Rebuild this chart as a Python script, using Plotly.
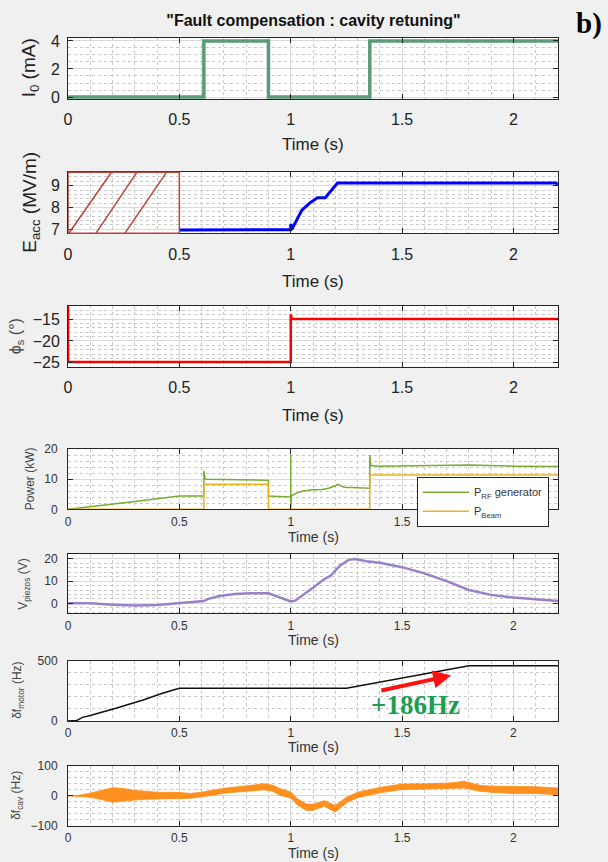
import plotly.graph_objects as go

# ---------------- data ----------------
# Panel 1 : beam current I0 (mA)
t_I0 = [0, 0.61, 0.61, 0.90, 0.90, 1.355, 1.355, 2.2]
I0 = [0, 0, 4, 4, 0, 0, 4, 4]

# Panel 2 : accelerating field Eacc (MV/m)
t_E = [0.5, 0.8, 1.0, 1.0, 1.005, 1.05, 1.085, 1.12, 1.155, 1.21, 1.6, 2.19, 2.2]
Eacc = [6.97, 6.97, 6.98, 7.25, 7.0, 7.88, 8.2, 8.45, 8.45, 9.12, 9.12, 9.12, 9.05]

# Panel 3 : synchronous phase (deg)
t_phi = [0, 0, 1.0, 1.0, 1.005, 2.2]
phi_s = [-11.95, -24.8, -24.8, -13.9, -15.0, -15.0]

# Panel 4 : powers (kW)
t_prf = [0, 0.1, 0.2, 0.3, 0.4, 0.5, 0.61, 0.61, 0.615, 0.62, 0.7, 0.8, 0.9, 0.9, 0.95,
         1.0, 1.0, 1.0, 1.003, 1.02, 1.05, 1.08, 1.1, 1.14, 1.17, 1.2, 1.21, 1.24, 1.3,
         1.355, 1.355, 1.36, 1.4, 1.6, 1.8, 2.0, 2.2]
p_rf = [0, 0.8, 1.7, 2.6, 3.5, 4.4, 4.4, 12.8, 10.2, 10.0, 9.9, 9.8, 9.6, 4.4, 4.3,
        4.1, 18.2, 0, 4.5, 5.2, 6.0, 6.3, 6.5, 6.6, 7.0, 7.8, 8.3, 7.3, 7.1,
        7.0, 18.0, 14.5, 14.3, 14.5, 14.7, 14.3, 14.2]
t_pb = [0, 0.61, 0.61, 0.9, 0.9, 1.355, 1.355, 2.2]
p_beam = [0, 0, 8.3, 8.3, 0, 0, 11.4, 11.4]

# Panel 5 : piezo voltage (V)
t_v = [0, 0.1, 0.2, 0.3, 0.4, 0.5, 0.58, 0.61, 0.63, 0.68, 0.75, 0.82, 0.9, 0.95, 1.0,
       1.02, 1.06, 1.1, 1.15, 1.18, 1.22, 1.26, 1.29, 1.34, 1.4, 1.5, 1.6, 1.7, 1.8,
       1.85, 1.9, 2.0, 2.1, 2.2]
v_piezo = [0, 0, -0.6, -1.0, -0.8, 0, 0.8, 1.0, 2.0, 3.3, 4.2, 4.5, 4.5, 2.5, 0.8,
           1.2, 4.0, 7.0, 10.8, 12.5, 17.0, 19.6, 20.0, 19.0, 18.3, 16.3, 13.5, 10.0, 6.0,
           4.8, 3.8, 2.6, 1.8, 1.0]

# Panel 6 : motor detuning (Hz)
t_m = [0, 0.04, 0.065, 0.1, 0.215, 0.337, 0.424, 0.5, 1.25, 1.8, 2.2]
df_motor = [0, 5, 30, 45, 105, 174, 230, 272, 272, 458, 458]
arrow_t = [1.40, 1.72]
arrow_f = [250, 378]
label_t, label_f = 1.56, 133

# Panel 7 : cavity detuning (Hz) - centre of the noisy band and its half width
t_c = [0, 0.05, 0.1, 0.15, 0.2, 0.25, 0.3, 0.35, 0.4, 0.5, 0.55, 0.6, 0.65, 0.7, 0.8,
       0.88, 0.92, 0.95, 1.0, 1.03, 1.07, 1.1, 1.15, 1.2, 1.25, 1.3, 1.4, 1.5, 1.6, 1.7,
       1.78, 1.85, 1.9, 2.0, 2.1, 2.2]
df_cav = [0, 0, 2, 3, 3, 3, 2, 2, 1, 1, 0, 4, 10, 17, 24,
          30, 25, 13, 3, -20, -38, -38, -25, -43, -14, 3, 19, 30, 31, 33,
          37, 25, 22, 20, 19, 15]
df_cav_half = [0, 2, 7, 15, 24, 21, 16, 13, 11, 10, 8, 8, 8, 8, 9,
               10, 10, 11, 10, 10, 11, 10, 9, 11, 9, 9, 9, 9, 9, 9,
               11, 10, 10, 12, 11, 11]

# hatched "fault" zone in panel 2 (x start / x end of each hatch line)
hatch_x0 = [0.004, 0.125, 0.255]
hatch_x1 = [0.195, 0.309, 0.442]
fault_zone = [0, 0.5]

x_ticks = [0, 0.5, 1, 1.5, 2]
x_tick_text = ["0", "0.5", "1", "1.5", "2"]

# ---------------- layout helpers ----------------
W, H = 608, 862
ML, MR = 68, 50
PW = W - ML - MR
PANEL_PX = [(37.7, 99), (172.3, 233.3), (305.7, 366.7), (449, 509.3),
            (554.3, 613.3), (660.7, 721), (765.7, 826)]
TIME_Y_PX = [145, 281, 415, 537, 640, 747, 853]
YT_X_PX = [30, 31, 16, 30, 24, 18, 17]
Y_TITLES = ["I<sub>0</sub> (mA)", "E<sub>acc</sub> (MV/m)", "ϕ<sub>s</sub> (°)",
            "Power (kW)", "V<sub>piezos</sub> (V)", "δf<sub>motor</sub> (Hz)",
            "δf<sub>cav</sub> (Hz)"]
Y_RANGES = [[-0.14, 4.23], [6.82, 9.61], [-25.9, -11.95], [0, 20], [-4.5, 22.1],
            [0, 500], [-100, 100]]
Y_TICKS = [[0, 2, 4], [7, 8, 9], [-25, -20, -15], [0, 10, 20], [0, 10, 20],
           [0, 500], [-100, 0, 100]]
Y_MINOR = [0.5, 0.2, 1, 2, 2, 100, 20]

SANS = "Liberation Sans, Arial, sans-serif"
AX = "#262626"

fig = go.Figure()

def add(x, y, i, color, width, name=None, show=False, **kw):
    fig.add_trace(go.Scatter(x=x, y=y, mode="lines", name=name, showlegend=show,
                             line=dict(color=color, width=width),
                             xaxis="x" if i == 1 else f"x{i}",
                             yaxis="y" if i == 1 else f"y{i}", hoverinfo="skip", **kw))

add(t_I0, I0, 1, "#5a9b78", 3.5)
add(t_E, Eacc, 2, "#0000ff", 3)
add(t_phi, phi_s, 3, "#ff0000", 2.5)
add(t_prf, p_rf, 4, "#77ac30", 1.5, name="P<sub>RF</sub> generator", show=True)
add(t_pb, p_beam, 4, "#edb120", 1.5, name="P<sub>Beam</sub>", show=True)
add(t_v, v_piezo, 5, "#9682c8", 2.5)
add(t_m, df_motor, 6, "#111111", 1.5)
band_x = t_c + t_c[::-1]
band_y = [c + h for c, h in zip(df_cav, df_cav_half)] + \
         [c - h for c, h in zip(df_cav[::-1], df_cav_half[::-1])]
add(band_x, band_y, 7, "#ff8a10", 0.8, fill="toself", fillcolor="#ff8f1f")

layout = dict(
    width=W, height=H, paper_bgcolor="#f0f0f0", plot_bgcolor="#ffffff",
    margin=dict(l=ML, r=MR, t=0, b=0, autoexpand=False),
    font=dict(family=SANS, color="#222222"),
    title=dict(text="<b>\"Fault compensation : cavity retuning\"</b>",
               x=(313.5) / W, xanchor="center", y=1 - 20 / H, yanchor="middle",
               font=dict(family=SANS, size=16, color="#111111")),
    legend=dict(x=(417 - ML) / PW, y=1 - 476.7 / H, xref="paper", yref="paper",
                xanchor="left", yanchor="top", bgcolor="#ffffff",
                bordercolor=AX, borderwidth=1, font=dict(size=11, color="#333333"),
                tracegroupgap=0, itemwidth=46),
)

annotations = []
for k in range(7):
    i = k + 1
    top, bot = PANEL_PX[k]
    big = k < 3
    sx = "" if i == 1 else str(i)
    tf = dict(family=SANS, size=16 if big else 12, color="#222222" if big else "#333333")
    layout[f"xaxis{sx}"] = dict(
        domain=[0, 1], anchor=f"y{sx}", range=[0, 2.2], tickvals=x_ticks,
        ticktext=x_tick_text, ticks="inside", ticklen=5, tickcolor=AX,
        showline=True, linecolor=AX, linewidth=1, mirror="ticks",
        showgrid=True, gridcolor="#d9d9d9", gridwidth=1, zeroline=False,
        ticklabelstandoff=6 if big else 1, tickfont=tf,
        minor=dict(dtick=0.1, tick0=0, showgrid=True, gridcolor="#c8c8c8",
                   griddash="dot", gridwidth=1),
    )
    layout[f"yaxis{sx}"] = dict(
        domain=[1 - bot / H, 1 - top / H], anchor=f"x{sx}", range=Y_RANGES[k],
        tickvals=Y_TICKS[k], ticks="inside", ticklen=5, tickcolor=AX,
        showline=True, linecolor=AX, linewidth=1, mirror="ticks",
        showgrid=True, gridcolor="#d9d9d9", gridwidth=1, zeroline=False,
        ticklabelstandoff=4 if big else 7, tickfont=tf,
        minor=dict(dtick=Y_MINOR[k], tick0=0, showgrid=True, gridcolor="#c8c8c8",
                   griddash="dot", gridwidth=1),
    )
    annotations.append(dict(
        text="Time (s)", xref="paper", yref="paper", x=0.5, y=1 - TIME_Y_PX[k] / H,
        xanchor="center", yanchor="middle", showarrow=False,
        font=dict(family=SANS, size=17 if big else 14,
                  color="#222222" if big else "#333333")))
    annotations.append(dict(
        text=Y_TITLES[k], xref="paper", yref="paper",
        x=(YT_X_PX[k] - ML) / PW, y=1 - (top + bot) / 2 / H,
        xanchor="center", yanchor="middle", textangle=-90, showarrow=False,
        font=dict(family=SANS, size=(19 if k < 2 else 16) if big else 12,
                  color="#222222" if k < 2 else "#444444")))

# "b)" label
annotations.append(dict(text="<b>b)</b>", xref="paper", yref="paper",
                        x=(604 - ML) / PW, y=1 - 24 / H, xanchor="right",
                        yanchor="middle", showarrow=False,
                        font=dict(family="Liberation Serif, Times New Roman, serif",
                                  size=29, color="#000000")))
# red arrow and +186Hz label in panel 6
annotations.append(dict(x=arrow_t[1], y=arrow_f[1], ax=arrow_t[0], ay=arrow_f[0],
                        xref="x6", yref="y6", axref="x6", ayref="y6", text="",
                        showarrow=True, arrowhead=2, arrowsize=0.9, arrowwidth=4,
                        arrowcolor="#ff1010"))
annotations.append(dict(x=label_t, y=label_f, xref="x6", yref="y6", text="<b>+186Hz</b>",
                        showarrow=False, xanchor="center", yanchor="middle",
                        font=dict(family="Liberation Serif, Times New Roman, serif",
                                  size=27, color="#1a9e50")))
layout["annotations"] = annotations

# hatched fault zone in panel 2
shapes = [dict(type="rect", xref="x2", yref="y2 domain", x0=fault_zone[0],
               x1=fault_zone[1], y0=0, y1=1, line=dict(color="#b5453e", width=1.5))]
for a, b in zip(hatch_x0, hatch_x1):
    shapes.append(dict(type="line", xref="x2", yref="y2 domain", x0=a, x1=b, y0=0, y1=1,
                       line=dict(color="#b5453e", width=1.5)))
layout["shapes"] = shapes

fig.update_layout(**layout)
fig.write_html("out.html", config={"displayModeBar": False},
               post_script="document.body.style.margin='0px';"
                           "document.body.style.overflow='hidden';")
